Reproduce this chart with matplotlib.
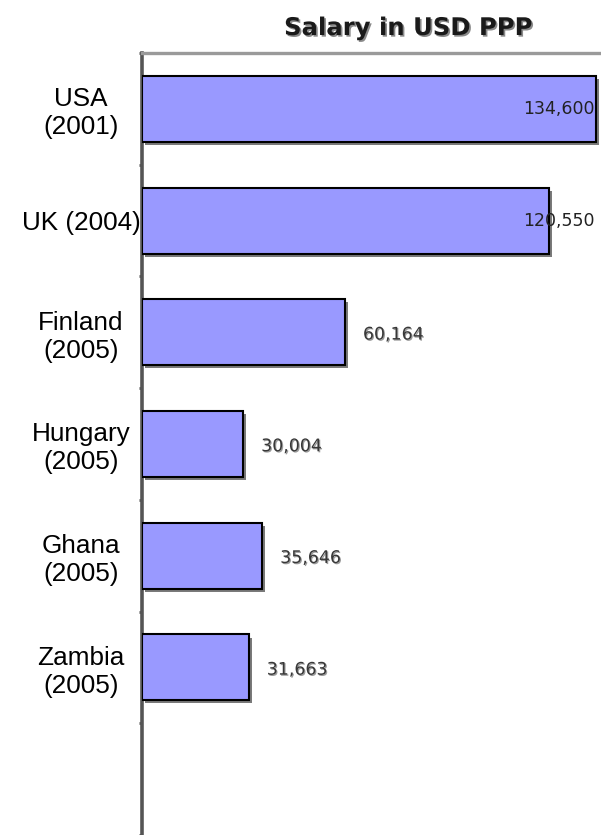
import matplotlib
matplotlib.use("Agg")
import matplotlib.pyplot as plt
import matplotlib.patheffects as pe
import numpy as np

categories = ["USA\n(2001)", "UK (2004)", "Finland\n(2005)", "Hungary\n(2005)", "Ghana\n(2005)", "Zambia\n(2005)"]
salaries = [134600, 120550, 60164, 30004, 35646, 31663]
value_labels = ["134,600", "120,550", "60,164", "30,004", "35,646", "31,663"]
title = "Salary in USD PPP"

fig = plt.figure(figsize=(6.01, 8.35), dpi=100)
ax = fig.add_axes([142 / 601, 0.0, 1 - 142 / 601, 1 - 53 / 835])

y = np.arange(len(categories))
bars = ax.barh(y, salaries, height=0.59, color="#9999FF", edgecolor="black", linewidth=1.5, zorder=3)
for b in bars:
    b.set_path_effects([pe.SimplePatchShadow(offset=(2.2, -2.2), shadow_rgbFace="#7a7a7a", alpha=1.0), pe.Normal()])

ax.set_xlim(0, 136000)
ax.set_ylim(len(categories) + 0.5, -0.5)

ax.set_yticks(y)
ax.set_yticklabels(categories, fontsize=18.8, family="Liberation Sans", ha="center", multialignment="center")
ax.set_yticks(np.arange(-0.5, len(categories) + 1, 1.0), minor=True)
ax.tick_params(axis="y", which="major", length=0, pad=44)
ax.tick_params(axis="y", which="minor", length=2.5, width=2, color="#555555", direction="out")
ax.set_xticks([])

for s in ["right", "bottom"]:
    ax.spines[s].set_visible(False)
ax.spines["left"].set_color("#555555")
ax.spines["left"].set_linewidth(2.6)
ax.spines["top"].set_color("#9a9a9a")
ax.spines["top"].set_linewidth(2.4)

cap = 112800
offset = 5300
for yi, v, lab in zip(y, salaries, value_labels):
    x = v + offset
    if x > cap:
        ax.text(cap, yi, lab, va="center", ha="left", fontsize=12.5, family="DejaVu Sans",
                color="#222222", zorder=5)
    else:
        t = ax.text(x, yi + 0.02, lab, va="center", ha="left", fontsize=12.5, family="DejaVu Sans",
                    color="#383838", zorder=5)
        t.set_path_effects([pe.withSimplePatchShadow(offset=(0.8, -0.8), shadow_rgbFace="#9a9a9a", alpha=1.0)])

tt = fig.text(408 / 601, 1 - 28 / 835, title, ha="center", va="center", fontsize=17.5,
              fontweight="bold", family="DejaVu Sans", color="#1a1a1a")
tt.set_path_effects([pe.withSimplePatchShadow(offset=(1.2, -1.2), shadow_rgbFace="#8a8a8a", alpha=1.0)])

fig.savefig("out.png", dpi=100)
